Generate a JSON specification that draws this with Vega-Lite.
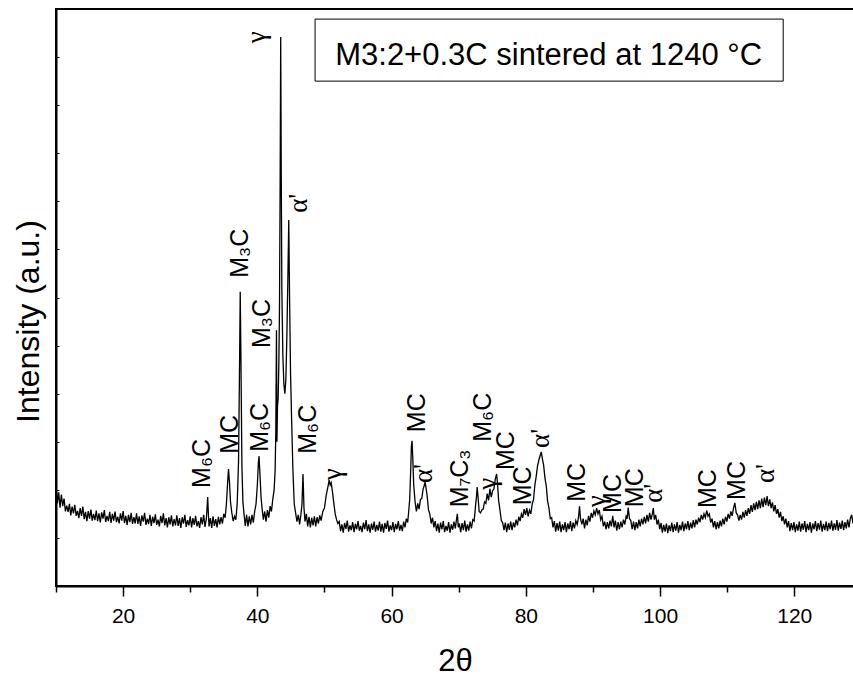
{
"$schema": "https://vega.github.io/schema/vega-lite/v6.json",
"width": 798, "height": 577,
"autosize": {"type": "none"},
"padding": {"left": 56, "top": 9, "right": 0, "bottom": 91},
"background": "white",
"config": {"font": "Liberation Sans", "view": {"stroke": "black", "strokeWidth": 2}},
"datasets": {
"xrd": [
{"t":10.0,"i":2.10},{"t":10.2,"i":1.72},{"t":10.4,"i":1.95},{"t":10.6,"i":1.63},{"t":10.8,"i":1.90},{"t":11.0,"i":1.66},{"t":11.2,"i":1.82},{"t":11.4,"i":1.55},{"t":11.6,"i":1.67},{"t":11.8,"i":1.54},{"t":12.0,"i":1.71},{"t":12.2,"i":1.47},{"t":12.4,"i":1.65},{"t":12.6,"i":1.51},{"t":12.8,"i":1.69},{"t":13.0,"i":1.46},{"t":13.2,"i":1.56},{"t":13.4,"i":1.41},{"t":13.6,"i":1.62},{"t":13.8,"i":1.46},{"t":14.0,"i":1.65},{"t":14.2,"i":1.39},{"t":14.4,"i":1.54},{"t":14.6,"i":1.35},{"t":14.8,"i":1.56},{"t":15.0,"i":1.40},{"t":15.2,"i":1.59},{"t":15.4,"i":1.36},{"t":15.6,"i":1.50},{"t":15.8,"i":1.37},{"t":16.0,"i":1.57},{"t":16.2,"i":1.35},{"t":16.4,"i":1.51},{"t":16.6,"i":1.32},{"t":16.8,"i":1.53},{"t":17.0,"i":1.40},{"t":17.2,"i":1.58},{"t":17.4,"i":1.33},{"t":17.6,"i":1.46},{"t":17.8,"i":1.35},{"t":18.0,"i":1.54},{"t":18.2,"i":1.31},{"t":18.4,"i":1.50},{"t":18.6,"i":1.36},{"t":18.8,"i":1.55},{"t":19.0,"i":1.33},{"t":19.2,"i":1.44},{"t":19.4,"i":1.30},{"t":19.6,"i":1.51},{"t":19.8,"i":1.36},{"t":20.0,"i":1.56},{"t":20.2,"i":1.31},{"t":20.4,"i":1.46},{"t":20.6,"i":1.27},{"t":20.8,"i":1.48},{"t":21.0,"i":1.33},{"t":21.2,"i":1.52},{"t":21.4,"i":1.29},{"t":21.6,"i":1.43},{"t":21.8,"i":1.30},{"t":22.0,"i":1.51},{"t":22.2,"i":1.29},{"t":22.4,"i":1.45},{"t":22.6,"i":1.25},{"t":22.8,"i":1.47},{"t":23.0,"i":1.34},{"t":23.2,"i":1.52},{"t":23.4,"i":1.27},{"t":23.6,"i":1.40},{"t":23.8,"i":1.29},{"t":24.0,"i":1.48},{"t":24.2,"i":1.25},{"t":24.4,"i":1.44},{"t":24.6,"i":1.31},{"t":24.8,"i":1.49},{"t":25.0,"i":1.27},{"t":25.2,"i":1.38},{"t":25.4,"i":1.24},{"t":25.6,"i":1.46},{"t":25.8,"i":1.31},{"t":26.0,"i":1.51},{"t":26.2,"i":1.26},{"t":26.4,"i":1.41},{"t":26.6,"i":1.22},{"t":26.8,"i":1.43},{"t":27.0,"i":1.28},{"t":27.2,"i":1.47},{"t":27.4,"i":1.24},{"t":27.6,"i":1.39},{"t":27.8,"i":1.26},{"t":28.0,"i":1.47},{"t":28.2,"i":1.25},{"t":28.4,"i":1.41},{"t":28.6,"i":1.21},{"t":28.8,"i":1.43},{"t":29.0,"i":1.30},{"t":29.2,"i":1.48},{"t":29.4,"i":1.23},{"t":29.6,"i":1.37},{"t":29.8,"i":1.26},{"t":30.0,"i":1.45},{"t":30.2,"i":1.22},{"t":30.4,"i":1.41},{"t":30.6,"i":1.27},{"t":30.8,"i":1.46},{"t":31.0,"i":1.24},{"t":31.2,"i":1.35},{"t":31.4,"i":1.21},{"t":31.6,"i":1.43},{"t":31.8,"i":1.28},{"t":32.0,"i":1.48},{"t":32.2,"i":1.23},
{"t":32.4,"i":1.40},{"t":32.5,"i":1.60},{"t":32.6,"i":1.85},{"t":32.7,"i":1.52},{"t":32.8,"i":1.24},{"t":33.0,"i":1.41},{"t":33.2,"i":1.21},{"t":33.4,"i":1.45},{"t":33.6,"i":1.25},{"t":33.8,"i":1.39},{"t":34.0,"i":1.22},{"t":34.2,"i":1.44},{"t":34.4,"i":1.28},{"t":34.6,"i":1.43},{"t":34.8,"i":1.30},{"t":35.0,"i":1.50},{"t":35.2,"i":1.42},{"t":35.4,"i":1.72},{"t":35.55,"i":2.10},{"t":35.7,"i":2.43},{"t":35.85,"i":2.15},{"t":36.0,"i":1.75},{"t":36.2,"i":1.52},{"t":36.4,"i":1.35},{"t":36.6,"i":1.45},{"t":36.8,"i":1.38},{"t":37.0,"i":1.72},{"t":37.2,"i":2.60},{"t":37.35,"i":4.60},{"t":37.45,"i":6.12},{"t":37.55,"i":4.80},{"t":37.7,"i":2.50},{"t":37.85,"i":1.75},{"t":38.0,"i":1.52},{"t":38.2,"i":1.25},{"t":38.4,"i":1.48},{"t":38.6,"i":1.24},{"t":38.8,"i":1.45},{"t":39.0,"i":1.28},{"t":39.2,"i":1.48},{"t":39.4,"i":1.32},{"t":39.6,"i":1.55},{"t":39.8,"i":1.70},{"t":40.0,"i":2.10},{"t":40.15,"i":2.55},{"t":40.25,"i":2.70},{"t":40.4,"i":2.30},{"t":40.55,"i":1.85},{"t":40.7,"i":1.62},{"t":40.9,"i":1.38},{"t":41.1,"i":1.55},{"t":41.3,"i":1.34},{"t":41.5,"i":1.58},{"t":41.7,"i":1.42},{"t":41.9,"i":1.66},{"t":42.1,"i":1.55},{"t":42.3,"i":1.80},{"t":42.5,"i":2.00},{"t":42.65,"i":2.40},{"t":42.75,"i":3.20},{"t":42.85,"i":5.32},{"t":42.92,"i":3.00},{"t":43.0,"i":3.74},{"t":43.1,"i":3.90},{"t":43.2,"i":4.60},{"t":43.3,"i":5.80},{"t":43.4,"i":8.50},{"t":43.48,"i":11.42},{"t":43.55,"i":9.00},{"t":43.65,"i":6.20},{"t":43.8,"i":4.80},{"t":43.95,"i":4.20},{"t":44.1,"i":4.00},{"t":44.25,"i":4.30},{"t":44.4,"i":5.20},{"t":44.55,"i":6.40},{"t":44.68,"i":7.61},{"t":44.8,"i":6.00},{"t":44.95,"i":4.40},{"t":45.1,"i":3.50},{"t":45.3,"i":2.40},{"t":45.5,"i":1.70},{"t":45.7,"i":1.52},{"t":45.9,"i":1.34},{"t":46.1,"i":1.48},{"t":46.3,"i":1.28},{"t":46.5,"i":1.50},{"t":46.65,"i":1.70},{"t":46.8,"i":2.33},{"t":46.95,"i":1.62},{"t":47.1,"i":1.34},{"t":47.3,"i":1.50},{"t":47.5,"i":1.24},{"t":47.7,"i":1.44},{"t":47.9,"i":1.22},{"t":48.1,"i":1.42},{"t":48.3,"i":1.26},{"t":48.5,"i":1.45},{"t":48.7,"i":1.24},{"t":48.9,"i":1.43},{"t":49.1,"i":1.30},{"t":49.3,"i":1.47},{"t":49.5,"i":1.36},{"t":49.75,"i":1.55},{"t":50.0,"i":1.62},{"t":50.25,"i":1.88},{"t":50.5,"i":2.05},{"t":50.7,"i":2.20},{"t":50.85,"i":2.10},{"t":51.0,"i":2.15},{"t":51.2,"i":1.95},{"t":51.4,"i":1.72},{"t":51.6,"i":1.50},{"t":51.8,"i":1.38},{"t":52.0,"i":1.30},
{"t":52.2,"i":1.34},{"t":52.4,"i":1.14},{"t":52.6,"i":1.28},{"t":52.8,"i":1.11},{"t":53.0,"i":1.31},{"t":53.2,"i":1.19},{"t":53.4,"i":1.36},{"t":53.6,"i":1.13},{"t":53.8,"i":1.26},{"t":54.0,"i":1.16},{"t":54.2,"i":1.33},{"t":54.4,"i":1.12},{"t":54.6,"i":1.29},{"t":54.8,"i":1.18},{"t":55.0,"i":1.35},{"t":55.2,"i":1.15},{"t":55.4,"i":1.25},{"t":55.6,"i":1.12},{"t":55.8,"i":1.32},{"t":56.0,"i":1.18},{"t":56.2,"i":1.37},{"t":56.4,"i":1.14},{"t":56.6,"i":1.28},{"t":56.8,"i":1.11},{"t":57.0,"i":1.30},{"t":57.2,"i":1.17},{"t":57.4,"i":1.34},{"t":57.6,"i":1.13},{"t":57.8,"i":1.27},{"t":58.0,"i":1.15},{"t":58.2,"i":1.34},{"t":58.4,"i":1.13},{"t":58.6,"i":1.29},{"t":58.8,"i":1.11},{"t":59.0,"i":1.31},{"t":59.2,"i":1.19},{"t":59.4,"i":1.36},{"t":59.6,"i":1.13},{"t":59.8,"i":1.26},{"t":60.0,"i":1.16},{"t":60.2,"i":1.33},{"t":60.4,"i":1.12},{"t":60.6,"i":1.29},{"t":60.8,"i":1.18},{"t":61.0,"i":1.35},{"t":61.2,"i":1.15},{"t":61.4,"i":1.27},{"t":61.6,"i":1.14},{"t":61.8,"i":1.34},{"t":62.0,"i":1.22},{"t":62.2,"i":1.40},{"t":62.4,"i":1.32},{"t":62.55,"i":1.55},{"t":62.7,"i":1.80},{"t":62.85,"i":2.40},{"t":62.95,"i":2.90},{"t":63.05,"i":3.02},{"t":63.15,"i":2.70},{"t":63.3,"i":2.10},{"t":63.5,"i":1.75},{"t":63.7,"i":1.55},{"t":63.9,"i":1.72},{"t":64.1,"i":1.60},{"t":64.3,"i":1.80},{"t":64.5,"i":1.82},{"t":64.7,"i":2.02},{"t":64.85,"i":2.08},{"t":65.0,"i":2.17},{"t":65.15,"i":2.02},{"t":65.3,"i":1.88},{"t":65.5,"i":1.58},{"t":65.7,"i":1.50},{"t":65.9,"i":1.30},{"t":66.1,"i":1.42},{"t":66.3,"i":1.22},
{"t":66.5,"i":1.35},{"t":66.7,"i":1.14},{"t":66.9,"i":1.30},{"t":67.1,"i":1.11},{"t":67.3,"i":1.32},{"t":67.5,"i":1.18},{"t":67.7,"i":1.35},{"t":67.9,"i":1.12},{"t":68.1,"i":1.25},{"t":68.3,"i":1.15},{"t":68.5,"i":1.33},{"t":68.7,"i":1.11},{"t":68.9,"i":1.28},{"t":69.1,"i":1.17},{"t":69.3,"i":1.34},{"t":69.5,"i":1.20},{"t":69.65,"i":1.36},{"t":69.8,"i":1.50},{"t":69.95,"i":1.22},{"t":70.1,"i":1.30},{"t":70.3,"i":1.12},{"t":70.5,"i":1.31},{"t":70.7,"i":1.16},{"t":70.9,"i":1.36},{"t":71.1,"i":1.13},{"t":71.3,"i":1.28},{"t":71.5,"i":1.15},{"t":71.7,"i":1.34},{"t":71.9,"i":1.20},{"t":72.1,"i":1.38},{"t":72.3,"i":1.35},{"t":72.5,"i":1.65},{"t":72.65,"i":1.85},{"t":72.75,"i":2.06},{"t":72.9,"i":1.82},{"t":73.05,"i":1.55},{"t":73.25,"i":1.52},{"t":73.45,"i":1.58},{"t":73.65,"i":1.60},{"t":73.85,"i":1.75},{"t":74.05,"i":1.72},{"t":74.25,"i":1.92},{"t":74.45,"i":1.78},{"t":74.65,"i":2.02},{"t":74.85,"i":1.85},{"t":75.05,"i":1.98},{"t":75.25,"i":2.02},{"t":75.45,"i":2.22},{"t":75.65,"i":2.33},{"t":75.8,"i":2.10},{"t":75.95,"i":1.78},{"t":76.15,"i":1.58},{"t":76.35,"i":1.36},{"t":76.55,"i":1.32},{"t":76.75,"i":1.16},
{"t":76.95,"i":1.32},{"t":77.15,"i":1.12},{"t":77.35,"i":1.30},{"t":77.55,"i":1.17},{"t":77.75,"i":1.34},{"t":77.95,"i":1.16},{"t":78.15,"i":1.32},{"t":78.35,"i":1.22},{"t":78.55,"i":1.38},{"t":78.75,"i":1.26},{"t":78.95,"i":1.44},{"t":79.15,"i":1.35},{"t":79.35,"i":1.50},{"t":79.55,"i":1.42},{"t":79.75,"i":1.60},{"t":79.95,"i":1.48},{"t":80.15,"i":1.62},{"t":80.35,"i":1.45},{"t":80.55,"i":1.58},{"t":80.75,"i":1.50},{"t":80.95,"i":1.70},{"t":81.15,"i":1.80},{"t":81.35,"i":2.10},{"t":81.55,"i":2.28},{"t":81.75,"i":2.50},{"t":81.95,"i":2.62},{"t":82.15,"i":2.72},{"t":82.3,"i":2.79},{"t":82.45,"i":2.66},{"t":82.65,"i":2.52},{"t":82.85,"i":2.25},{"t":83.05,"i":2.08},{"t":83.25,"i":1.76},{"t":83.45,"i":1.62},{"t":83.65,"i":1.40},{"t":83.85,"i":1.42},{"t":84.05,"i":1.22},
{"t":84.25,"i":1.35},{"t":84.45,"i":1.13},{"t":84.65,"i":1.31},{"t":84.85,"i":1.15},{"t":85.05,"i":1.34},{"t":85.25,"i":1.12},{"t":85.45,"i":1.28},{"t":85.65,"i":1.16},{"t":85.85,"i":1.33},{"t":86.05,"i":1.12},{"t":86.25,"i":1.30},{"t":86.45,"i":1.18},{"t":86.65,"i":1.35},{"t":86.85,"i":1.14},{"t":87.05,"i":1.32},{"t":87.25,"i":1.20},{"t":87.45,"i":1.36},{"t":87.65,"i":1.28},{"t":87.85,"i":1.42},{"t":88.0,"i":1.66},{"t":88.15,"i":1.40},{"t":88.35,"i":1.28},{"t":88.55,"i":1.40},{"t":88.75,"i":1.20},{"t":88.95,"i":1.38},{"t":89.15,"i":1.26},{"t":89.35,"i":1.46},{"t":89.55,"i":1.34},{"t":89.75,"i":1.52},{"t":89.95,"i":1.42},{"t":90.15,"i":1.56},{"t":90.35,"i":1.48},{"t":90.55,"i":1.62},{"t":90.75,"i":1.50},{"t":90.95,"i":1.58},{"t":91.15,"i":1.38},{"t":91.35,"i":1.45},{"t":91.55,"i":1.24},{"t":91.75,"i":1.34},{"t":91.95,"i":1.18},{"t":92.15,"i":1.33},{"t":92.35,"i":1.20},{"t":92.55,"i":1.36},{"t":92.75,"i":1.24},{"t":92.95,"i":1.46},{"t":93.15,"i":1.22},{"t":93.35,"i":1.36},{"t":93.55,"i":1.15},{"t":93.75,"i":1.33},{"t":93.95,"i":1.18},{"t":94.15,"i":1.34},{"t":94.35,"i":1.22},{"t":94.55,"i":1.38},{"t":94.75,"i":1.28},{"t":94.95,"i":1.45},{"t":95.1,"i":1.40},{"t":95.25,"i":1.63},{"t":95.45,"i":1.40},{"t":95.65,"i":1.36},{"t":95.85,"i":1.18},{"t":96.05,"i":1.34},{"t":96.25,"i":1.16},{"t":96.45,"i":1.33},{"t":96.65,"i":1.20},{"t":96.85,"i":1.38},{"t":97.05,"i":1.24},{"t":97.25,"i":1.40},{"t":97.45,"i":1.28},{"t":97.65,"i":1.44},{"t":97.85,"i":1.30},{"t":98.05,"i":1.48},{"t":98.25,"i":1.34},{"t":98.45,"i":1.52},{"t":98.65,"i":1.38},{"t":98.85,"i":1.50},{"t":99.0,"i":1.62},{"t":99.15,"i":1.38},{"t":99.35,"i":1.48},{"t":99.55,"i":1.28},{"t":99.75,"i":1.38},{"t":99.95,"i":1.18},
{"t":100.15,"i":1.31},{"t":100.35,"i":1.11},{"t":100.55,"i":1.27},{"t":100.75,"i":1.13},{"t":100.95,"i":1.30},{"t":101.15,"i":1.10},{"t":101.35,"i":1.26},{"t":101.55,"i":1.14},{"t":101.75,"i":1.32},{"t":101.95,"i":1.12},{"t":102.15,"i":1.28},{"t":102.35,"i":1.15},{"t":102.55,"i":1.33},{"t":102.75,"i":1.11},{"t":102.95,"i":1.27},{"t":103.15,"i":1.16},{"t":103.35,"i":1.34},{"t":103.55,"i":1.14},{"t":103.75,"i":1.30},{"t":103.95,"i":1.18},{"t":104.15,"i":1.35},{"t":104.35,"i":1.16},{"t":104.55,"i":1.32},{"t":104.75,"i":1.20},{"t":104.95,"i":1.37},{"t":105.15,"i":1.22},{"t":105.35,"i":1.38},{"t":105.55,"i":1.28},{"t":105.75,"i":1.42},{"t":105.95,"i":1.33},{"t":106.15,"i":1.48},{"t":106.35,"i":1.38},{"t":106.55,"i":1.50},{"t":106.75,"i":1.42},{"t":106.95,"i":1.57},{"t":107.15,"i":1.45},{"t":107.35,"i":1.50},{"t":107.55,"i":1.32},{"t":107.75,"i":1.40},{"t":107.95,"i":1.22},{"t":108.15,"i":1.35},{"t":108.35,"i":1.18},{"t":108.55,"i":1.33},{"t":108.75,"i":1.20},{"t":108.95,"i":1.36},{"t":109.15,"i":1.24},{"t":109.35,"i":1.40},{"t":109.55,"i":1.28},{"t":109.75,"i":1.44},{"t":109.95,"i":1.34},{"t":110.15,"i":1.50},{"t":110.35,"i":1.40},{"t":110.55,"i":1.55},{"t":110.75,"i":1.46},{"t":110.95,"i":1.62},{"t":111.15,"i":1.73},{"t":111.35,"i":1.52},{"t":111.55,"i":1.48},{"t":111.75,"i":1.36},{"t":111.95,"i":1.48},{"t":112.15,"i":1.38},{"t":112.35,"i":1.54},{"t":112.55,"i":1.42},{"t":112.75,"i":1.58},{"t":112.95,"i":1.46},{"t":113.15,"i":1.62},{"t":113.35,"i":1.50},{"t":113.55,"i":1.68},{"t":113.75,"i":1.54},{"t":113.95,"i":1.72},{"t":114.15,"i":1.58},{"t":114.35,"i":1.75},{"t":114.55,"i":1.60},{"t":114.75,"i":1.78},{"t":114.95,"i":1.62},{"t":115.15,"i":1.82},{"t":115.35,"i":1.64},{"t":115.55,"i":1.84},{"t":115.75,"i":1.68},{"t":115.95,"i":1.87},{"t":116.15,"i":1.66},{"t":116.35,"i":1.80},{"t":116.55,"i":1.62},{"t":116.75,"i":1.74},{"t":116.95,"i":1.55},{"t":117.15,"i":1.68},{"t":117.35,"i":1.50},{"t":117.55,"i":1.60},{"t":117.75,"i":1.42},{"t":117.95,"i":1.54},{"t":118.15,"i":1.35},{"t":118.35,"i":1.45},{"t":118.55,"i":1.28},{"t":118.75,"i":1.40},{"t":118.95,"i":1.22},
{"t":119.15,"i":1.35},{"t":119.35,"i":1.14},{"t":119.55,"i":1.31},{"t":119.75,"i":1.16},{"t":119.95,"i":1.33},{"t":120.15,"i":1.12},{"t":120.35,"i":1.28},{"t":120.55,"i":1.15},{"t":120.75,"i":1.34},{"t":120.95,"i":1.13},{"t":121.15,"i":1.30},{"t":121.35,"i":1.17},{"t":121.55,"i":1.35},{"t":121.75,"i":1.12},{"t":121.95,"i":1.29},{"t":122.15,"i":1.16},{"t":122.35,"i":1.33},{"t":122.55,"i":1.11},{"t":122.75,"i":1.30},{"t":122.95,"i":1.18},{"t":123.15,"i":1.35},{"t":123.35,"i":1.14},{"t":123.55,"i":1.31},{"t":123.75,"i":1.17},{"t":123.95,"i":1.36},{"t":124.15,"i":1.13},{"t":124.35,"i":1.29},{"t":124.55,"i":1.16},{"t":124.75,"i":1.34},{"t":124.95,"i":1.14},{"t":125.15,"i":1.31},{"t":125.35,"i":1.18},{"t":125.55,"i":1.36},{"t":125.75,"i":1.15},{"t":125.95,"i":1.30},{"t":126.15,"i":1.17},{"t":126.35,"i":1.37},{"t":126.55,"i":1.15},{"t":126.75,"i":1.32},{"t":126.95,"i":1.19},{"t":127.15,"i":1.36},{"t":127.35,"i":1.16},{"t":127.55,"i":1.33},{"t":127.75,"i":1.20},{"t":127.95,"i":1.38},{"t":128.15,"i":1.22},{"t":128.35,"i":1.40},{"t":128.55,"i":1.48},{"t":128.75,"i":1.30}
],
"labels": [
{"t":31.71,"i":2.04,"lab":"M₆C"},
{"t":35.93,"i":2.75,"lab":"MC"},
{"t":37.42,"i":6.41,"lab":"M₃C"},
{"t":40.40,"i":2.79,"lab":"M₆C"},
{"t":40.66,"i":4.95,"lab":"M₃C"},
{"t":47.60,"i":2.75,"lab":"M₆C"},
{"t":63.76,"i":3.20,"lab":"MC"},
{"t":70.20,"i":1.64,"lab":"M₇C₃"},
{"t":73.60,"i":3.00,"lab":"M₆C"},
{"t":77.06,"i":2.41,"lab":"MC"},
{"t":79.60,"i":1.68,"lab":"MC"},
{"t":87.60,"i":1.75,"lab":"MC"},
{"t":93.00,"i":1.52,"lab":"MC"},
{"t":96.30,"i":1.64,"lab":"MC"},
{"t":107.20,"i":1.62,"lab":"MC"},
{"t":111.50,"i":1.79,"lab":"MC"}
],
"greek": [
{"t":39.90,"i":11.29,"lab":"γ"},
{"t":46.20,"i":7.76,"lab":"α'"},
{"t":51.30,"i":2.20,"lab":"γ"},
{"t":64.80,"i":2.14,"lab":"α'"},
{"t":74.30,"i":2.00,"lab":"γ"},
{"t":82.30,"i":2.87,"lab":"α'"},
{"t":90.60,"i":1.64,"lab":"γ"},
{"t":99.10,"i":1.73,"lab":"α'"},
{"t":115.80,"i":2.14,"lab":"α'"}
]
},
"layer": [
{
"data": {"name": "xrd"},
"mark": {"type": "line", "color": "black", "strokeWidth": 1.3},
"encoding": {
"x": {"field": "t", "type": "quantitative",
  "scale": {"domain": [10, 128.9], "nice": false, "zero": false},
  "axis": {"values": [10,20,30,40,50,60,70,80,90,100,110,120],
    "labelExpr": "datum.value % 20 == 0 ? datum.label : ''",
    "tickSize": {"condition": {"test": "datum.value % 20 == 0", "value": 10}, "value": 6},
    "tickColor": "black", "tickWidth": 1.5,
    "domainColor": "black", "domainWidth": 2,
    "grid": false,
    "labelFont": "Liberation Sans", "labelFontSize": 21, "labelColor": "black",
    "labelBaseline": "alphabetic", "labelPadding": 26,
    "title": "2θ", "titleFont": "Liberation Sans", "titleFontSize": 31, "titleFontWeight": "normal",
    "titleColor": "black", "titleBaseline": "alphabetic", "titleY": 84}},
"y": {"field": "i", "type": "quantitative",
  "scale": {"domain": [0, 12], "nice": false, "zero": false},
  "axis": {"values": [0,1,2,3,4,5,6,7,8,9,10,11,12], "labels": false,
    "tickSize": -3, "tickColor": "black", "tickWidth": 1,
    "domainColor": "black", "domainWidth": 2, "grid": false,
    "title": "Intensity (a.u.)", "titleFont": "Liberation Sans", "titleFontSize": 32,
    "titleFontWeight": "normal", "titleColor": "black",
    "titleX": -28, "titleY": 312, "titleBaseline": "middle", "titleAngle": 270}}
}
},
{
"data": {"name": "labels"},
"mark": {"type": "text", "angle": 270, "align": "left", "baseline": "middle", "fontSize": 25, "font": "Liberation Sans", "color": "black"},
"encoding": {
"x": {"field": "t", "type": "quantitative"},
"y": {"field": "i", "type": "quantitative"},
"text": {"field": "lab"}
}
},
{
"data": {"name": "greek"},
"mark": {"type": "text", "angle": 270, "align": "left", "baseline": "middle", "fontSize": 27, "font": "Liberation Serif", "color": "black"},
"encoding": {
"x": {"field": "t", "type": "quantitative"},
"y": {"field": "i", "type": "quantitative"},
"text": {"field": "lab"}
}
},
{
"data": {"values": [{}]},
"mark": {"type": "rect", "fill": "white", "stroke": "black", "strokeWidth": 1},
"encoding": {
"x": {"datum": 48.6, "type": "quantitative"},
"x2": {"datum": 118.35},
"y": {"datum": 11.79, "type": "quantitative"},
"y2": {"datum": 10.5}
}
},
{
"data": {"values": [{}]},
"mark": {"type": "text", "align": "center", "baseline": "alphabetic", "fontSize": 31, "font": "Liberation Sans", "color": "black"},
"encoding": {
"x": {"datum": 83.4, "type": "quantitative"},
"y": {"datum": 10.84, "type": "quantitative"},
"text": {"value": "M3:2+0.3C sintered at 1240 °C"}
}
}
]
}
